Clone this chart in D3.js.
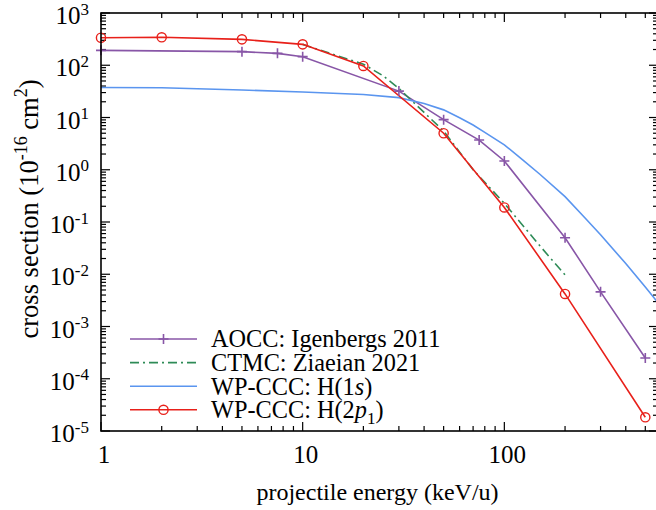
<!DOCTYPE html>
<html>
<head>
<meta charset="utf-8">
<script src="https://cdn.jsdelivr.net/npm/d3@7"></script>
<style>
  body { margin: 0; background: #fff; }
  svg { display: block; font-family: "Liberation Serif", "DejaVu Serif", serif; }
</style>
</head>
<body>
<svg id="chart" width="656" height="510"></svg>
<script>
// values (energy in keV/u, cross section in 1e-16 cm^2)
const aoccEnergy = [1, 5, 7.5, 10, 30, 50, 75, 100, 200, 300, 500];
const aoccSigma = [193, 182, 169, 146, 32, 9.1, 3.7, 1.47, 0.050, 0.0046, 2.5e-4];

const ctmcEnergy = [10, 20, 25, 30, 40, 50, 70, 100, 150, 200];
const ctmcSigma = [251, 105, 63, 36, 12.5, 5.5, 1.0, 0.228, 0.035, 0.0097];

const h1sEnergy = [1, 2, 5, 10, 20, 30, 40, 50, 60, 70, 80, 100, 125, 150, 200, 250, 300, 400, 500, 600];
const h1sSigma = [37.5, 37, 33.6, 30.8, 27.5, 24, 18.5, 14, 9.9, 7.2, 5.2, 3.0, 1.48, 0.82, 0.305, 0.122, 0.057, 0.016, 0.0057, 0.0024];

const h2pEnergy = [1, 2, 5, 10, 20, 50, 100, 200, 500];
const h2pSigma = [337, 343, 313, 251, 97, 5.0, 0.19, 0.0042, 1.83e-5];

const xTickLabels = [1, 10, 100];
const yExponents = [-5, -4, -3, -2, -1, 0, 1, 2, 3];

const legendLabels = ["AOCC: Igenbergs 2011", "CTMC: Ziaeian 2021", "WP-CCC: H(1s)", "WP-CCC: H(2p1)"];

const svg = d3.select("#chart");
const margin = { top: 13, right: -2, bottom: 79, left: 101 };
const width = 656 - margin.left - margin.right;
const height = 510 - margin.top - margin.bottom;

const x = d3.scaleLog().domain([1, 578]).range([0, width]);
const y = d3.scaleLog().domain([1e-5, 1e3]).range([height, 0]);

const g = svg.append("g").attr("transform", `translate(${margin.left},${margin.top})`);

g.append("defs").append("clipPath").attr("id", "plot-clip")
  .append("rect").attr("width", width).attr("height", height);

// ticks, all pointing inward on the four sides
const xMinor = [];
[1, 10, 100].forEach(d => { for (let k = 2; k <= 9; k++) if (d * k <= 578) xMinor.push(d * k); });
const yMinor = [];
yExponents.slice(0, -1).forEach(e => { for (let k = 2; k <= 9; k++) yMinor.push(k * Math.pow(10, e)); });

const ticks = g.append("g").attr("stroke", "#000").attr("stroke-width", 1.2);
xTickLabels.forEach(d => {
  ticks.append("line").attr("x1", x(d)).attr("x2", x(d)).attr("y1", height).attr("y2", height - 9);
  ticks.append("line").attr("x1", x(d)).attr("x2", x(d)).attr("y1", 0).attr("y2", 9);
});
xMinor.forEach(d => {
  ticks.append("line").attr("x1", x(d)).attr("x2", x(d)).attr("y1", height).attr("y2", height - 5);
  ticks.append("line").attr("x1", x(d)).attr("x2", x(d)).attr("y1", 0).attr("y2", 5);
});
yExponents.forEach(e => {
  const v = Math.pow(10, e);
  ticks.append("line").attr("x1", 0).attr("x2", 9).attr("y1", y(v)).attr("y2", y(v));
  ticks.append("line").attr("x1", width).attr("x2", width - 9).attr("y1", y(v)).attr("y2", y(v));
});
yMinor.forEach(v => {
  ticks.append("line").attr("x1", 0).attr("x2", 5).attr("y1", y(v)).attr("y2", y(v));
  ticks.append("line").attr("x1", width).attr("x2", width - 5).attr("y1", y(v)).attr("y2", y(v));
});

// tick labels
g.selectAll(".xlab").data(xTickLabels).enter().append("text")
  .attr("class", "xlab")
  .attr("x", d => x(d) + 3).attr("y", height + 32)
  .attr("text-anchor", "middle").attr("font-size", 25)
  .text(d => d);

const ylab = g.selectAll(".ylab").data(yExponents).enter().append("text")
  .attr("class", "ylab")
  .attr("x", -12).attr("y", d => y(Math.pow(10, d)) + 11)
  .attr("text-anchor", "end").attr("font-size", 25);
ylab.append("tspan").text("10");
ylab.append("tspan").attr("dy", -9.5).attr("font-size", 17).text(d => d);

// axis titles
g.append("text")
  .attr("x", width / 2 - 2).attr("y", height + 69)
  .attr("text-anchor", "middle").attr("font-size", 24)
  .text("projectile energy (keV/u)");

const yt = g.append("text")
  .attr("transform", `translate(${38 - margin.left},${196}) rotate(-90)`)
  .attr("text-anchor", "middle").attr("font-size", 26.5);
yt.append("tspan").text("cross section (10");
yt.append("tspan").attr("dy", -11).attr("font-size", 18).text("-16");
yt.append("tspan").attr("dy", 11).text(" cm");
yt.append("tspan").attr("dy", -11).attr("font-size", 18).text("2");
yt.append("tspan").attr("dy", 11).text(")");

// series
const series = [
  { e: aoccEnergy, s: aoccSigma, color: "#8856a7", dash: null, marker: "plus" },
  { e: ctmcEnergy, s: ctmcSigma, color: "#2e8b57", dash: "9,4,2,4", marker: null },
  { e: h1sEnergy, s: h1sSigma, color: "#5a95ef", dash: null, marker: null },
  { e: h2pEnergy, s: h2pSigma, color: "#e8201a", dash: null, marker: "circle" }
];

const line = d3.line().x(d => x(d[0])).y(d => y(d[1]));
const lines = g.append("g").attr("clip-path", "url(#plot-clip)");

series.forEach(sr => {
  const pts = sr.e.map((e, i) => [e, sr.s[i]]);
  lines.append("path").datum(pts)
    .attr("d", line)
    .attr("fill", "none")
    .attr("stroke", sr.color)
    .attr("stroke-width", 1.6)
    .attr("stroke-dasharray", sr.dash);
  if (sr.marker === "plus") {
    g.append("g").selectAll("path").data(pts).enter().append("path")
      .attr("d", d => `M${x(d[0]) - 5},${y(d[1])}h10M${x(d[0])},${y(d[1]) - 5}v10`)
      .attr("stroke", sr.color).attr("stroke-width", 1.6);
  } else if (sr.marker === "circle") {
    g.append("g").selectAll("circle").data(pts).enter().append("circle")
      .attr("cx", d => x(d[0])).attr("cy", d => y(d[1])).attr("r", 4.6)
      .attr("fill", "none").attr("stroke", sr.color).attr("stroke-width", 1.4);
  }
});

// frame
g.append("rect").attr("width", width).attr("height", height)
  .attr("fill", "none").attr("stroke", "#000").attr("stroke-width", 1.6);

// legend
const legend = g.append("g").attr("transform", "translate(29,326)");
series.forEach((sr, i) => {
  const row = legend.append("g").attr("transform", `translate(0,${i * 23.6})`);
  row.append("line").attr("x1", 0).attr("x2", 67).attr("y1", 0).attr("y2", 0)
    .attr("stroke", sr.color).attr("stroke-width", 1.6).attr("stroke-dasharray", sr.dash);
  if (sr.marker === "plus") {
    row.append("path").attr("d", "M28.5,0h10M33.5,-5v10").attr("stroke", sr.color).attr("stroke-width", 1.6);
  } else if (sr.marker === "circle") {
    row.append("circle").attr("cx", 33.5).attr("cy", 0).attr("r", 4.6)
      .attr("fill", "none").attr("stroke", sr.color).attr("stroke-width", 1.4);
  }
  const t = row.append("text").attr("x", 81).attr("y", 8.3).attr("font-size", 24.3);
  if (i === 2) {
    t.append("tspan").text("WP-CCC: H(1");
    t.append("tspan").attr("font-style", "italic").text("s");
    t.append("tspan").text(")");
  } else if (i === 3) {
    t.append("tspan").text("WP-CCC: H(2");
    t.append("tspan").attr("font-style", "italic").text("p");
    t.append("tspan").attr("dy", 6).attr("font-size", 17).text("1");
    t.append("tspan").attr("dy", -6).text(")");
  } else {
    t.text(legendLabels[i]);
  }
});
</script>
</body>
</html>
